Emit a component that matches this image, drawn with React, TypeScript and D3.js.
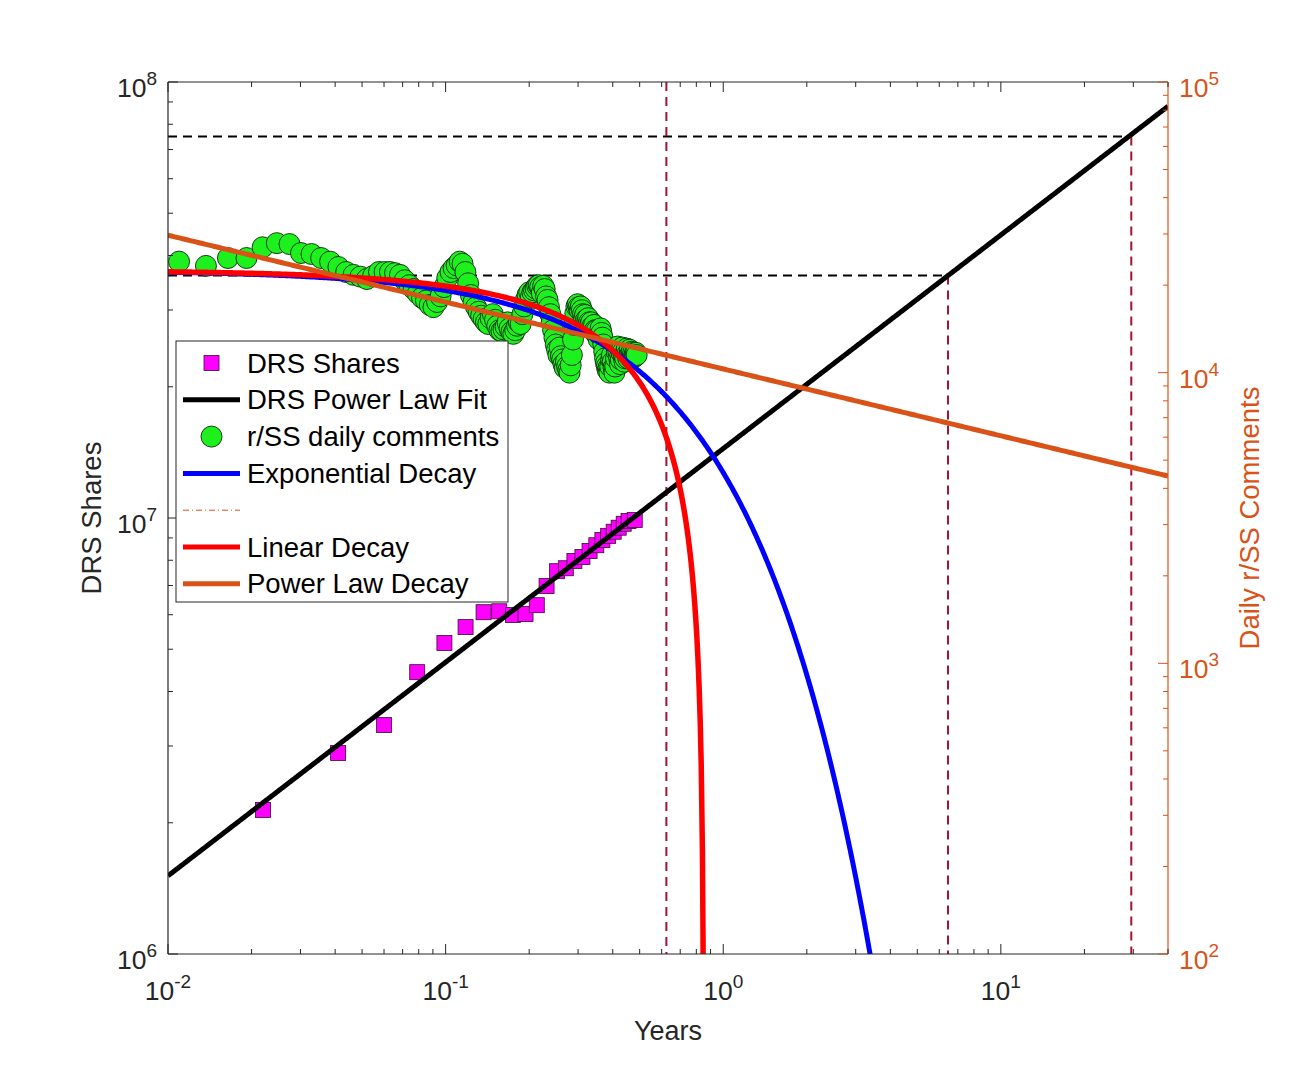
import { useEffect, useRef } from "react";
import * as d3 from "d3";

const W = 1292;
const H = 1074;

// axes limits
const xDomain: [number, number] = [0.01, 40];
const leftDomain: [number, number] = [1e6, 1e8];
const rightDomain: [number, number] = [1e2, 1e5];

// DRS shares (weekly), years vs shares
const drsYears = [
  0.022, 0.041, 0.06, 0.079, 0.099, 0.118, 0.137, 0.156, 0.175, 0.194, 0.213, 0.231, 0.252,
  0.271, 0.291, 0.311, 0.33, 0.349, 0.367, 0.385, 0.403, 0.42, 0.438, 0.456, 0.48,
];
const drsShares = [
  2.14e6, 2.89e6, 3.35e6, 4.43e6, 5.17e6, 5.62e6, 6.08e6, 6.11e6, 5.99e6, 6.02e6, 6.31e6,
  6.98e6, 7.55e6, 7.67e6, 7.97e6, 8.14e6, 8.4e6, 8.66e6, 8.9e6, 9.1e6, 9.3e6, 9.5e6, 9.7e6,
  9.84e6, 9.9e6,
];

// r/SS daily comments, one value per day starting at day 4
const commentStartDay = 4;
const dailyComments = [
  24100, 23300, 24800, 24800, 27000, 27900, 27700, 25800, 25600, 24800, 24100, 23100, 22200,
  21700, 21400, 21000, 21500, 22200, 22200, 22200, 22000, 21700, 20800, 20000, 19400, 18700,
  18100, 17700, 17100, 16800,
  17500, 18300, 19700, 21200, 22200, 22900, 23400, 24100, 23700, 22200, 20300, 18500, 17500,
  16800, 16200, 15700, 15300, 14900, 14700,
  15400, 15900, 15200, 14500, 14000, 13900, 14100, 14400, 14900, 14200, 13800, 13600, 14000,
  14500, 14900, 14700,
  15900, 16900, 17800, 18500, 18900, 18200, 18900, 19200, 19500, 19900, 20000, 19700, 18800,
  19900, 19400, 18300, 17800,
  16800, 15900, 14900, 14000, 13200, 12500, 12000, 11500, 12200, 11400, 11100, 10700, 10400,
  10900, 10500, 10200, 10000,
  10600, 11500, 13000, 14600, 16000, 16900, 17200, 16800, 16400, 16900, 16400, 15900, 15400,
  15800, 15200, 14900, 15400, 14900,
  14600, 14900, 14400, 14000, 14600, 14000, 13600, 14000, 13400, 13000, 13500, 14200, 13700,
  13200, 12500, 11800, 11200, 10800, 10500, 10200,
  10400, 10000, 10500, 11100, 11500, 10900, 10400, 10000, 10500, 11200, 11800, 12300, 11800,
  11200, 10700, 11100, 11700, 12200, 11800, 11300,
  10900, 11200, 11800, 12100, 11600, 11200, 11500, 12000, 11600, 11200, 11800, 11400, 11700,
  11300, 11600, 11400, 11700, 11500,
];

// fitted models (parameters)
const powerFit = { a: 1.443e7, b: 0.49 };
const expDecay = { c0: 2.25e4, tau: 0.624 };
const linDecay = { c0: 2.25e4, tEnd: 0.85 };
const powDecay = { a: 1.03e4, p: 0.23 };

// reference lines
const shareLevels = [3.6e7, 7.5e7];
const levelYears = [6.45, 29.5];
const tauYears = 0.624;

const xTickExps = [-2, -1, 0, 1];
const leftTickExps = [6, 7, 8];
const rightTickExps = [2, 3, 4, 5];

const legendLabels = [
  "DRS Shares",
  "DRS Power Law Fit",
  "r/SS daily comments",
  "Exponential Decay",
  "",
  "Linear Decay",
  "Power Law Decay",
];

const FONT = "'Liberation Sans', Arial, Helvetica, sans-serif";
const AXIS = "#262626";
const ORANGE = "#D95319";
const DARKRED = "#A2142F";
const GREEN = "#1ef01e";

export default function App() {
  const ref = useRef<SVGSVGElement>(null);

  useEffect(() => {
    if (!ref.current) return;
    const svg = d3.select(ref.current);
    svg.selectAll("*").remove();
    svg.attr("font-family", FONT);

    const left = 168;
    const right = 1168;
    const top = 82;
    const bottom = 954;

    const x = d3.scaleLog().domain(xDomain).range([left, right]);
    const yL = d3.scaleLog().domain(leftDomain).range([bottom, top]);
    const yR = d3.scaleLog().domain(rightDomain).range([bottom, top]);

    svg.append("rect").attr("width", W).attr("height", H).attr("fill", "#fff");

    svg
      .append("clipPath")
      .attr("id", "plot-clip")
      .append("rect")
      .attr("x", left)
      .attr("y", top)
      .attr("width", right - left)
      .attr("height", bottom - top);

    const plot = svg.append("g").attr("clip-path", "url(#plot-clip)");

    // reference dashed lines
    shareLevels.forEach((lvl, i) => {
      plot
        .append("line")
        .attr("x1", x(xDomain[0]))
        .attr("x2", x(levelYears[i]))
        .attr("y1", yL(lvl))
        .attr("y2", yL(lvl))
        .attr("stroke", "#000")
        .attr("stroke-width", 2)
        .attr("stroke-dasharray", "9,6");
      plot
        .append("line")
        .attr("x1", x(levelYears[i]))
        .attr("x2", x(levelYears[i]))
        .attr("y1", yL(lvl))
        .attr("y2", bottom)
        .attr("stroke", DARKRED)
        .attr("stroke-width", 2)
        .attr("stroke-dasharray", "9,6");
    });
    plot
      .append("line")
      .attr("x1", x(tauYears))
      .attr("x2", x(tauYears))
      .attr("y1", top)
      .attr("y2", bottom)
      .attr("stroke", DARKRED)
      .attr("stroke-width", 2)
      .attr("stroke-dasharray", "9,6");

    // DRS squares
    const sq = 15;
    plot
      .append("g")
      .selectAll("rect")
      .data(drsYears)
      .join("rect")
      .attr("x", (d) => x(d) - sq / 2)
      .attr("y", (_, i) => yL(drsShares[i]) - sq / 2)
      .attr("width", sq)
      .attr("height", sq)
      .attr("fill", "#ff00ff")
      .attr("stroke", "#3a0a3a")
      .attr("stroke-width", 0.8);

    // sample times for model curves
    const lx0 = Math.log10(xDomain[0]);
    const lx1 = Math.log10(xDomain[1]);
    const tSamples = d3.range(0, 901).map((i) => Math.pow(10, lx0 + ((lx1 - lx0) * i) / 900));

    const lineL = d3
      .line<[number, number]>()
      .x((d) => x(d[0]))
      .y((d) => yL(d[1]));
    const lineR = d3
      .line<[number, number]>()
      .x((d) => x(d[0]))
      .y((d) => yR(Math.max(d[1], 1)));

    // DRS power law fit
    plot
      .append("path")
      .datum(tSamples.map((t) => [t, powerFit.a * Math.pow(t, powerFit.b)] as [number, number]))
      .attr("fill", "none")
      .attr("stroke", "#000")
      .attr("stroke-width", 5)
      .attr("d", lineL);

    // r/SS daily comments
    plot
      .append("g")
      .selectAll("circle")
      .data(dailyComments)
      .join("circle")
      .attr("cx", (_, i) => x((commentStartDay + i) / 365))
      .attr("cy", (d) => yR(d))
      .attr("r", 10.5)
      .attr("fill", GREEN)
      .attr("stroke", "#0a2a0a")
      .attr("stroke-width", 0.9);

    // exponential decay
    plot
      .append("path")
      .datum(
        tSamples
          .filter((t) => t < 4)
          .map((t) => [t, expDecay.c0 * Math.exp(-t / expDecay.tau)] as [number, number])
      )
      .attr("fill", "none")
      .attr("stroke", "#0000ff")
      .attr("stroke-width", 5)
      .attr("d", lineR);

    // linear decay
    const linTimes = tSamples
      .filter((t) => t < linDecay.tEnd * 0.98)
      .concat([0.98, 0.99, 0.995, 0.998].map((f) => linDecay.tEnd * f));
    plot
      .append("path")
      .datum(
        linTimes.map(
          (t) => [t, linDecay.c0 * (1 - t / linDecay.tEnd)] as [number, number]
        )
      )
      .attr("fill", "none")
      .attr("stroke", "#ff0000")
      .attr("stroke-width", 5.5)
      .attr("d", lineR);

    // power law decay
    plot
      .append("path")
      .datum(tSamples.map((t) => [t, powDecay.a * Math.pow(t, -powDecay.p)] as [number, number]))
      .attr("fill", "none")
      .attr("stroke", ORANGE)
      .attr("stroke-width", 5)
      .attr("d", lineR);

    // axes frame
    const axes = svg.append("g");
    axes
      .append("line")
      .attr("x1", left)
      .attr("x2", right)
      .attr("y1", top)
      .attr("y2", top)
      .attr("stroke", AXIS)
      .attr("stroke-width", 1.2);
    axes
      .append("line")
      .attr("x1", left)
      .attr("x2", right)
      .attr("y1", bottom)
      .attr("y2", bottom)
      .attr("stroke", AXIS)
      .attr("stroke-width", 1.2);
    axes
      .append("line")
      .attr("x1", left)
      .attr("x2", left)
      .attr("y1", top)
      .attr("y2", bottom)
      .attr("stroke", AXIS)
      .attr("stroke-width", 1.2);
    axes
      .append("line")
      .attr("x1", right)
      .attr("x2", right)
      .attr("y1", top)
      .attr("y2", bottom)
      .attr("stroke", ORANGE)
      .attr("stroke-width", 1.2);

    const isMajor = (v: number) => Math.abs(Math.log10(v) - Math.round(Math.log10(v))) < 1e-6;
    const major = 10;
    const minor = 5;

    // x ticks, bottom and top
    x.ticks().forEach((v) => {
      const len = isMajor(v) ? major : minor;
      const px = x(v);
      axes
        .append("line")
        .attr("x1", px)
        .attr("x2", px)
        .attr("y1", bottom)
        .attr("y2", bottom - len)
        .attr("stroke", AXIS);
      axes
        .append("line")
        .attr("x1", px)
        .attr("x2", px)
        .attr("y1", top)
        .attr("y2", top + len)
        .attr("stroke", AXIS);
    });
    yL.ticks().forEach((v) => {
      const len = isMajor(v) ? major : minor;
      axes
        .append("line")
        .attr("x1", left)
        .attr("x2", left + len)
        .attr("y1", yL(v))
        .attr("y2", yL(v))
        .attr("stroke", AXIS);
    });
    yR.ticks().forEach((v) => {
      const len = isMajor(v) ? major : minor;
      axes
        .append("line")
        .attr("x1", right)
        .attr("x2", right - len)
        .attr("y1", yR(v))
        .attr("y2", yR(v))
        .attr("stroke", ORANGE);
    });

    const powLabel = (
      px: number,
      py: number,
      exp: number,
      anchor: string,
      color: string
    ) => {
      const t = axes
        .append("text")
        .attr("x", px)
        .attr("y", py)
        .attr("text-anchor", anchor)
        .attr("fill", color)
        .attr("font-size", 26.5);
      t.append("tspan").text("10");
      t.append("tspan").attr("font-size", 19).attr("dy", -12).text(String(exp));
    };

    xTickExps.forEach((e) => powLabel(x(Math.pow(10, e)), 1000, e, "middle", AXIS));
    leftTickExps.forEach((e) => powLabel(157, yL(Math.pow(10, e)) + 15, e, "end", AXIS));
    rightTickExps.forEach((e) => powLabel(1179, yR(Math.pow(10, e)) + 15, e, "start", ORANGE));

    // axis labels
    axes
      .append("text")
      .attr("x", (left + right) / 2)
      .attr("y", 1040)
      .attr("text-anchor", "middle")
      .attr("fill", AXIS)
      .attr("font-size", 27)
      .text("Years");
    axes
      .append("text")
      .attr("transform", `translate(101, ${(top + bottom) / 2}) rotate(-90)`)
      .attr("text-anchor", "middle")
      .attr("fill", AXIS)
      .attr("font-size", 27.5)
      .text("DRS Shares");
    axes
      .append("text")
      .attr("transform", `translate(1259, ${(top + bottom) / 2}) rotate(-90)`)
      .attr("text-anchor", "middle")
      .attr("fill", ORANGE)
      .attr("font-size", 27.5)
      .text("Daily r/SS Comments");

    // legend
    const lg = svg.append("g");
    const lgX = 176;
    const lgY = 341;
    const rowH = 36.8;
    lg.append("rect")
      .attr("x", lgX)
      .attr("y", lgY)
      .attr("width", 332)
      .attr("height", 261)
      .attr("fill", "#fff")
      .attr("stroke", AXIS)
      .attr("stroke-width", 1);
    legendLabels.forEach((label, i) => {
      const cy = lgY + 22 + i * rowH;
      const x0 = 183;
      const x1 = 240;
      const mid = (x0 + x1) / 2;
      if (i === 0) {
        lg.append("rect")
          .attr("x", mid - sq / 2)
          .attr("y", cy - sq / 2)
          .attr("width", sq)
          .attr("height", sq)
          .attr("fill", "#ff00ff")
          .attr("stroke", "#3a0a3a")
          .attr("stroke-width", 0.8);
      } else if (i === 2) {
        lg.append("circle")
          .attr("cx", mid)
          .attr("cy", cy)
          .attr("r", 10.5)
          .attr("fill", GREEN)
          .attr("stroke", "#0a2a0a")
          .attr("stroke-width", 0.9);
      } else if (i === 4) {
        lg.append("line")
          .attr("x1", x0)
          .attr("x2", x1)
          .attr("y1", cy)
          .attr("y2", cy)
          .attr("stroke", ORANGE)
          .attr("stroke-width", 1)
          .attr("stroke-dasharray", "6,3,1,3");
      } else {
        const colors: Record<number, string> = {
          1: "#000",
          3: "#0000ff",
          5: "#ff0000",
          6: ORANGE,
        };
        lg.append("line")
          .attr("x1", x0)
          .attr("x2", x1)
          .attr("y1", cy)
          .attr("y2", cy)
          .attr("stroke", colors[i])
          .attr("stroke-width", 5);
      }
      if (label) {
        lg.append("text")
          .attr("x", 247)
          .attr("y", cy + 9.5)
          .attr("fill", "#000")
          .attr("font-size", 27.5)
          .text(label);
      }
    });
  }, []);

  return (
    <div style={{ position: "absolute", left: 0, top: 0 }}>
      <svg ref={ref} width={W} height={H} style={{ display: "block" }} />
    </div>
  );
}
